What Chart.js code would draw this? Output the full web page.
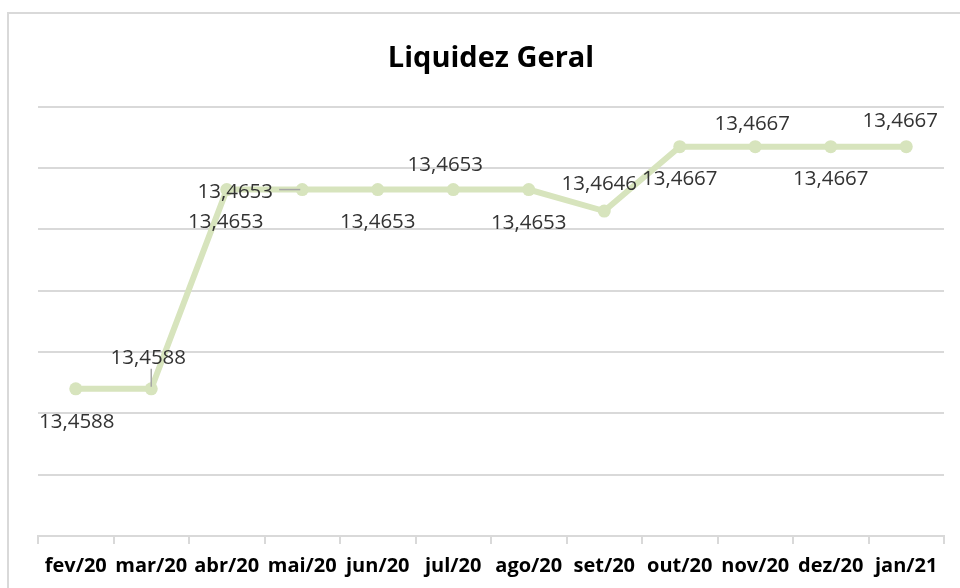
<!DOCTYPE html>
<html>
<head>
<meta charset="utf-8">
<script src="https://cdn.jsdelivr.net/npm/chart.js@4.4.1/dist/chart.umd.min.js"></script>
<style>
  html, body { margin: 0; padding: 0; background: #fff; }
  #wrap { position: relative; width: 960px; height: 588px; }
</style>
</head>
<body>
<div id="wrap"><canvas id="liquidezChart"></canvas></div>
<script>
'use strict';

// ── DADOS ───────────────────────────────────────────────────────
var meses   = ['fev/20', 'mar/20', 'abr/20', 'mai/20', 'jun/20', 'jul/20',
               'ago/20', 'set/20', 'out/20', 'nov/20', 'dez/20', 'jan/21'];
var liquidez = [13.4588, 13.4588, 13.4653, 13.4653, 13.4653, 13.4653,
                13.4653, 13.4646, 13.4667, 13.4667, 13.4667, 13.4667];

// eixo Y (oculto, só as linhas de grade)
var yMin  = 13.454;
var yMax  = 13.468;
var yStep = 0.002;

// posição dos rótulos em relação ao ponto [dx, dy] e linha guia
var rotuloDesloc = [[1, 33], [-3, -31], [-1, 33], [-67, 3], [0, 33], [-8, -24],
                    [0, 34], [-5, -27], [0, 33], [-3, -22], [0, 33], [-6, -25]];
var rotuloGuia   = [false, true, false, true, false, false,
                    false, false, false, false, false, false];

var VERDE = '#d7e4bd';
var GRADE = '#d9d9d9';
var FONTE = '"Open Sans", "Noto Sans", sans-serif';

function fmt(v) {
  return v.toFixed(4).replace('.', ',');
}

// ── PLUGIN: moldura ─────────────────────────────────────────────
var moldura = {
  id: 'moldura',
  beforeDraw: function (chart) {
    var ctx = chart.ctx;
    ctx.save();
    ctx.strokeStyle = GRADE;
    ctx.lineWidth = 2;
    ctx.strokeRect(8, 13, 1200, 1200);
    ctx.restore();
  }
};

// ── PLUGIN: rótulos de dados ────────────────────────────────────
var rotulos = {
  id: 'rotulos',
  afterDatasetsDraw: function (chart) {
    var ctx  = chart.ctx;
    var pts  = chart.getDatasetMeta(0).data;
    ctx.save();
    ctx.font = '20.5px ' + FONTE;
    ctx.textAlign = 'center';
    ctx.textBaseline = 'middle';
    pts.forEach(function (p, i) {
      var txt = fmt(liquidez[i]);
      var lx  = p.x + rotuloDesloc[i][0];
      var ly  = p.y + rotuloDesloc[i][1];

      if (rotuloGuia[i]) {
        var w  = ctx.measureText(txt).width / 2 + 6;
        var h  = 11;
        var sx = Math.max(lx - w, Math.min(p.x, lx + w));
        var sy = Math.max(ly - h, Math.min(p.y, ly + h));
        var dx = p.x - sx, dy = p.y - sy;
        var d  = Math.sqrt(dx * dx + dy * dy) || 1;
        ctx.strokeStyle = '#a6a6a6';
        ctx.lineWidth = 1.5;
        ctx.beginPath();
        ctx.moveTo(sx, sy);
        ctx.lineTo(p.x - dx / d * 2, p.y - dy / d * 2);
        ctx.stroke();
      }

      ctx.fillStyle = '#333333';
      ctx.fillText(txt, lx, ly);
    });
    ctx.restore();
  }
};

// ── GRÁFICO ─────────────────────────────────────────────────────
var ctx = document.getElementById('liquidezChart').getContext('2d');

new Chart(ctx, {
  type: 'line',
  data: {
    labels: meses,
    datasets: [{
      data           : liquidez,
      borderColor    : VERDE,
      backgroundColor: VERDE,
      borderWidth    : 6,
      pointRadius    : 6.5,
      pointBorderWidth: 0,
      pointBackgroundColor: VERDE,
      tension        : 0,
      fill           : false
    }]
  },
  options: {
    responsive         : true,
    maintainAspectRatio: false,
    animation          : false,
    layout: { padding: { left: 38, right: 16, top: 0, bottom: 0 } },
    plugins: {
      legend : { display: false },
      tooltip: { enabled: false },
      title  : {
        display: true,
        text   : 'Liquidez Geral',
        color  : '#000',
        font   : { family: FONTE, size: 29, weight: 'bold', lineHeight: 1.2 },
        padding: { top: 41, bottom: 31 }
      }
    },
    scales: {
      x: {
        offset: true,
        grid  : {
          offset: true,
          drawOnChartArea: false,
          drawTicks: true,
          tickLength: 8,
          color: GRADE,
          lineWidth: 2
        },
        border: { display: true, color: GRADE, width: 2 },
        ticks : {
          color: '#000',
          autoSkip: false,
          maxRotation: 0,
          padding: 10,
          font: { family: FONTE, size: 20, weight: 'bold' }
        }
      },
      y: {
        min: yMin,
        max: yMax,
        grid  : { color: GRADE, lineWidth: 2, drawTicks: false },
        border: { display: false },
        ticks : { display: false, stepSize: yStep }
      }
    }
  },
  plugins: [moldura, rotulos]
});
</script>
</body>
</html>
